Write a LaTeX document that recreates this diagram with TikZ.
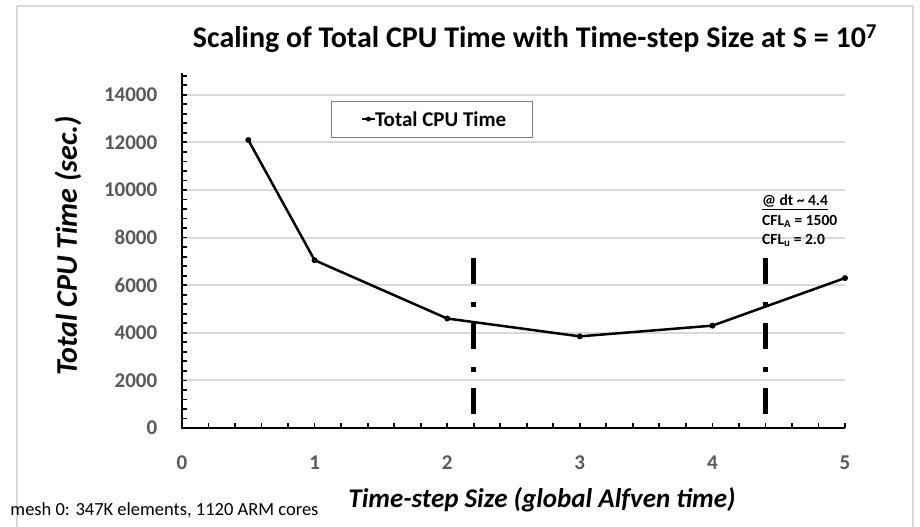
\documentclass[tikz,border=0pt]{standalone}
\usepackage{fontspec}
\setmainfont{Carlito}
\usetikzlibrary{positioning, calc}

\definecolor{gridgray}{HTML}{D9D9D9}
\definecolor{labgray}{HTML}{595959}
\definecolor{boxgray}{HTML}{7F7F7F}

\begin{document}
\begin{tikzpicture}[>=latex, x=132.6pt, y=23.8pt, font=\bfseries,
  gridline/.style={gridgray, line width=2pt},
  axisline/.style={black, line width=2.5pt},
  tickmark/.style={black, line width=1.8pt},
  ticklab/.style={text=labgray, font=\bfseries\fontsize{21}{21}\selectfont},
  datapt/.style={circle, fill=black, inner sep=0pt, minimum size=6pt},
  cfldash/.style={black, line width=5pt, dash pattern=on 26pt off 18pt on 5pt off 16pt}]

\useasboundingbox[fill=white] (-1.3725,-4.118) rectangle (5.5656,17.983);

% outer chart frame
\draw[gridgray, line width=1.5pt] (-1.244,-4.3) -- (-1.244,17.73) -- (5.513,17.73) -- (5.513,-4.3);

\node (title) at (2.662,16.35) {\fontsize{30}{30}\selectfont Scaling of Total CPU Time with Time-step Size at S = 10\textsuperscript{7}};

% grid
\foreach \v in {2,4,...,14}
  \draw[gridline] (0,\v) -- (5,\v);

% axes and ticks
\foreach \v in {0,0.4,...,14.8}
  \draw[tickmark] (0,\v) -- ++(5pt,0);
\foreach \u in {0.2,0.4,...,5.01}
  \draw[tickmark] (\u,0) -- ++(0,5pt);
\draw[axisline] (0,14.92) -- (0,0) -- (5,0);

\foreach \v [evaluate=\v as \lab using int(\v*1000)] in {0,2,...,14}
  \node[ticklab, anchor=east] (ylab\v) at (-0.16,\v) {\lab};
\foreach \u in {0,...,5}
  \node[ticklab] (xlab\u) at (\u,-1.47) {\u};

\node[rotate=90, font=\bfseries\itshape\fontsize{30}{30}\selectfont] (ytitle) at (-0.86,7.65) {Total CPU Time (sec.)};
\node[font=\bfseries\itshape\fontsize{27}{27}\selectfont] (xtitle) at (2.715,-3.03) {Time-step Size (global Alfven time)};
\node[anchor=west, font=\mdseries\fontsize{18.5}{18.5}\selectfont] (mesh) at (-1.32,-3.45) {mesh 0: 347K elements, 1120 ARM cores};

% dt markers
\draw[cfldash] (2.2,7.14) -- (2.2,0.46);
\draw[cfldash] (4.4,7.14) -- (4.4,0.46);

% data
\coordinate (p1) at (0.5,12.1);
\coordinate (p2) at (1,7.05);
\coordinate (p3) at (2,4.6);
\coordinate (p4) at (3,3.85);
\coordinate (p5) at (4,4.3);
\coordinate (p6) at (5,6.3);
\draw[black, line width=2.5pt, line join=round] (p1) -- (p2) -- (p3) -- (p4) -- (p5) -- (p6);
\foreach \p in {p1,p2,p3,p4,p5,p6}
  \node[datapt] at (\p) {};

% legend
\node[draw=boxgray, line width=1pt, minimum width=201pt, minimum height=36pt] (legend) at (1.889,12.98) {};
\node[anchor=west, font=\bfseries\fontsize{21}{21}\selectfont, inner sep=0pt] (legtext) at (1.455,12.98) {Total CPU Time};
\coordinate[left=13pt of legtext.west] (legstart);
\draw[black, line width=2.5pt] (legstart) -- (legtext.west);
\node[datapt, minimum size=5pt] (legdot) at ($(legstart)!0.5!(legtext.west)$) {};

% annotation
\node[anchor=west, align=left, inner sep=0pt, font=\bfseries\fontsize{15.5}{19.5}\selectfont] (note) at (4.374,8.70)
  {\underline{@ dt \textasciitilde{} 4.4}\\ CFL\textsubscript{A} = 1500\\ CFL\textsubscript{u} = 2.0};

\end{tikzpicture}
\end{document}
